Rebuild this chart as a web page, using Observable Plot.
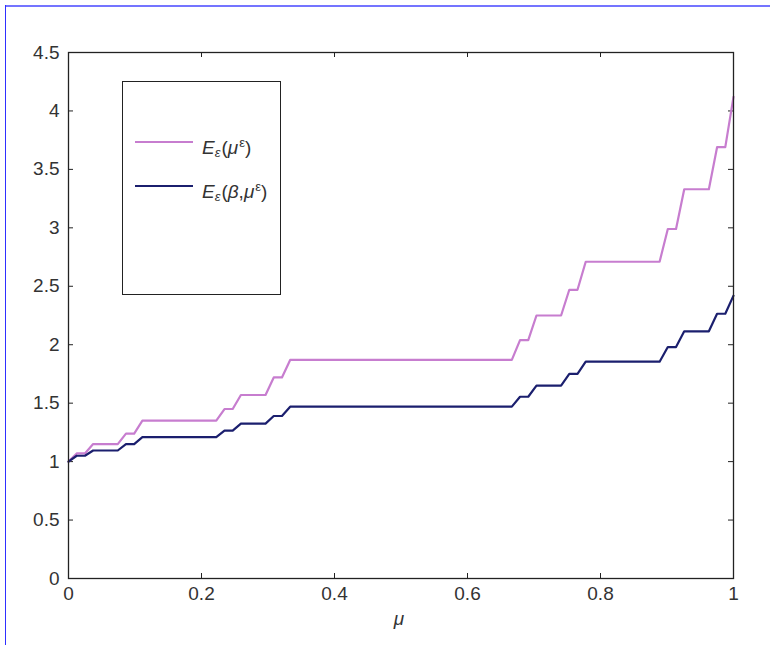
<!DOCTYPE html>
<html><head><meta charset="utf-8">
<script src="https://cdn.jsdelivr.net/npm/d3@7"></script>
<script src="https://cdn.jsdelivr.net/npm/@observablehq/plot@0.6"></script>
<style>
body{margin:0;background:#fff;}
#wrap{position:relative;width:770px;height:645px;overflow:hidden;font-family:"Liberation Sans",Arial,sans-serif;background:#fff;}
#frameTop{position:absolute;left:5px;top:5px;width:765px;height:2px;background:#7474ff;}
#frameLeft{position:absolute;left:5px;top:5px;width:1px;height:640px;background:#2f2fff;}
#legend{position:absolute;left:122px;top:81px;width:157px;height:212px;border:1px solid #222;background:#fff;}
.item{position:absolute;left:12px;height:26px;font-size:19px;color:#333;white-space:nowrap;}
.item .ln{position:absolute;left:0;top:11px;width:58px;height:2px;}
.item .tx{position:absolute;left:67px;top:0;line-height:26px;}
.item sub,.item sup{font-size:13px;}
.item sub{vertical-align:-3px;margin-right:1px;}
.item sup{vertical-align:7px;margin-left:1px;}
#chart{position:absolute;left:0;top:0;}
</style>
</head><body>
<div id="wrap">
<div id="chart"></div>
<div id="frameTop"></div>
<div id="frameLeft"></div>
<div id="legend">
  <div class="item" style="top:48px"><div class="ln" style="background:#c77dcf"></div><div class="tx"><i>E</i><sub><i>ε</i></sub>(<i>μ</i><sup>ε</sup>)</div></div>
  <div class="item" style="top:92px"><div class="ln" style="background:#1b1f6e"></div><div class="tx"><i>E</i><sub><i>ε</i></sub>(<i>β</i>,<i>μ</i><sup>ε</sup>)</div></div>
</div>
</div>
<script>
// breakpoints of the staircase, in units of 1/81 along μ
const muSteps81 = [0,1,2,3,6,7,8,9,18,19,20,21,24,25,26,27,54,55,56,57,60,61,62,63,72,73,74,75,78,79,80,81];
// E_ε(μ^ε)
const pinkValues = [1.0,1.07,1.07,1.15,1.15,1.24,1.24,1.35,1.35,1.45,1.45,1.57,1.57,1.72,1.72,1.87,1.87,2.04,2.04,2.25,2.25,2.47,2.47,2.71,2.71,2.99,2.99,3.33,3.33,3.69,3.69,4.12];
// E_ε(β, μ^ε)
const blueValues = [1.0,1.05,1.05,1.095,1.095,1.15,1.15,1.21,1.21,1.265,1.265,1.325,1.325,1.39,1.39,1.47,1.47,1.555,1.555,1.65,1.65,1.75,1.75,1.855,1.855,1.98,1.98,2.115,2.115,2.265,2.265,2.42];
const xTicks = [0,0.2,0.4,0.6,0.8,1];
const yTicks = [0,0.5,1,1.5,2,2.5,3,3.5,4,4.5];
const seriesNames = ["E(mu)","E(beta,mu)"];
const seriesColors = ["#c77dcf","#1b1f6e"];

const data = [];
muSteps81.forEach((m,i)=>{
  data.push({mu:m/81, v:pinkValues[i], s:seriesNames[0]});
});
muSteps81.forEach((m,i)=>{
  data.push({mu:m/81, v:blueValues[i], s:seriesNames[1]});
});

const W=770,H=645,mt=52,mb=67,ml=68,mr=37;
const ph=H-mt-mb, pw=W-ml-mr, tl=5;

const chart = Plot.plot({
  width:W, height:H,
  marginTop:mt, marginBottom:mb, marginLeft:ml, marginRight:mr,
  style:{fontFamily:"Liberation Sans, Arial, sans-serif", fontSize:"19px", color:"#333", background:"transparent"},
  x:{domain:[0,1]},
  y:{domain:[0,4.5]},
  color:{domain:seriesNames, range:seriesColors},
  marks:[
    Plot.tickX(xTicks,{insetTop:ph-tl, stroke:"#222"}),
    Plot.tickX(xTicks,{insetBottom:ph-tl, stroke:"#222"}),
    Plot.tickY(yTicks,{insetRight:pw-tl, stroke:"#222"}),
    Plot.tickY(yTicks,{insetLeft:pw-tl, stroke:"#222"}),
    Plot.line(data,{x:"mu", y:"v", z:"s", stroke:"s", strokeWidth:2.2}),
    Plot.frame({stroke:"#222", strokeWidth:1.3}),
    Plot.axisX(xTicks,{tickSize:0, tickPadding:8, tickFormat:d=>String(d), label:null, fontSize:19}),
    Plot.axisY(yTicks,{tickSize:0, tickPadding:9, tickFormat:d=>String(d), label:null, fontSize:19}),
    Plot.text(["μ"],{frameAnchor:"bottom", dy:46, dx:-2, fontStyle:"italic", fontSize:19, fill:"#333"})
  ]
});
document.getElementById("chart").appendChild(chart);
</script>
</body></html>
